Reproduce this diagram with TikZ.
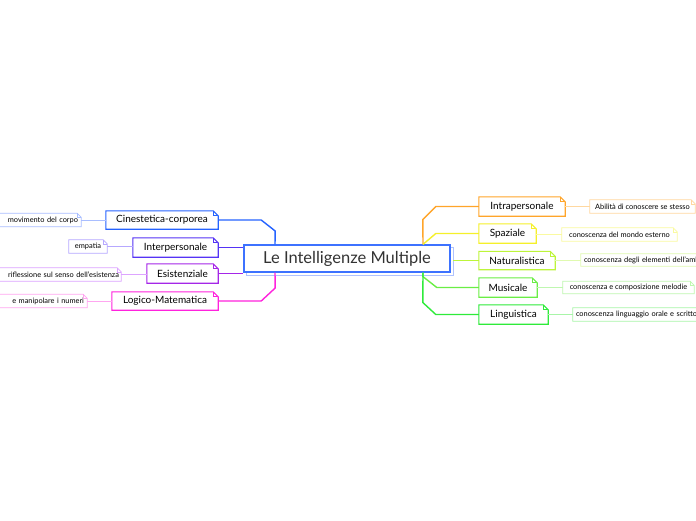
\documentclass[tikz,border=0pt]{standalone}
\usepackage{fontspec}
\setmainfont{Lato}
\definecolor{cBlue}{HTML}{2563FF}
\definecolor{cBlueL}{HTML}{A9BEFF}
\definecolor{cInd}{HTML}{5533F5}
\definecolor{cIndL}{HTML}{B6A8FF}
\definecolor{cVio}{HTML}{A526E8}
\definecolor{cVioL}{HTML}{DDA4FF}
\definecolor{cMag}{HTML}{FF22DD}
\definecolor{cMagL}{HTML}{FFA6F0}
\definecolor{cOra}{HTML}{FFA52A}
\definecolor{cOraL}{HTML}{FFD8A0}
\definecolor{cYel}{HTML}{F5F02A}
\definecolor{cYelL}{HTML}{FAFAA0}
\definecolor{cLime}{HTML}{BDF53A}
\definecolor{cLimeL}{HTML}{E0FAB0}
\definecolor{cGrn}{HTML}{6AEE45}
\definecolor{cGrnL}{HTML}{BFF7B0}
\definecolor{cLgr}{HTML}{2EEB3A}
\definecolor{cLgrL}{HTML}{A8F5A8}
\definecolor{cMain}{HTML}{3D72FF}
\definecolor{cShadow}{HTML}{AFC2FF}
\definecolor{cText}{HTML}{333333}
\newcommand\dogear[3]{%
  \draw[#2, line width=1.1pt, line join=miter] (#1.south west) -- (#1.north west) -- ([xshift=-#3]#1.north east) -- ([yshift=-#3]#1.north east) -- (#1.south east) -- cycle;
  \draw[#2, line width=0.8pt] ([xshift=-#3]#1.north east) -- ([xshift=-#3,yshift=-#3]#1.north east) -- ([yshift=-#3]#1.north east);
}
\newcommand\leafear[3]{%
  \draw[#2, line width=0.8pt, line join=miter] (#1.south west) -- (#1.north west) -- ([xshift=-#3]#1.north east) -- ([yshift=-#3]#1.north east) -- (#1.south east) -- cycle;
  \draw[#2, line width=0.6pt] ([xshift=-#3]#1.north east) -- ([xshift=-#3,yshift=-#3]#1.north east) -- ([yshift=-#3]#1.north east);
}
\begin{document}
\begin{tikzpicture}[x=1pt,y=-1pt,
  branch/.style={inner sep=0pt, minimum height=19pt, font=\fontsize{10}{11}\selectfont, text=black},
  leaf/.style={inner sep=0pt, minimum height=13pt, font=\fontsize{7.4}{8}\selectfont, text=black},
  conn/.style={line width=1.4pt, line join=miter},
  lconn/.style={line width=0.9pt}]
\clip (0,0) rectangle (696,520);
\fill[white] (0,0) rectangle (696,520);

% main node
\node[inner sep=0pt, minimum width=206pt, minimum height=27pt] (mainsh) at (350,261.5) {};
\draw[cShadow, line width=1.2pt, fill=white] (mainsh.south west) rectangle (mainsh.north east);
\node[inner sep=0pt, minimum width=206pt, minimum height=27pt, draw=cMain, line width=1.3pt, fill=white,
  font=\fontsize{16.5}{18}\selectfont, text=cText] (main) at (347,258.5) {Le Intelligenze Multiple};

\coordinate (lt) at (275,0);
\coordinate (rt) at (423,0);

% left branches
\node[branch, minimum width=112pt, minimum height=18pt] (cin) at (162,220) {Cinestetica-corporea};
\dogear{cin}{cBlue}{5pt}
\draw[conn, cBlue] (cin.east) -- ++(43,0) -- ++(14,11) -- (main.north -| lt);

\node[branch, minimum width=85pt] (inter) at (175.5,247.5) {Interpersonale};
\dogear{inter}{cInd}{5pt}
\draw[conn, cInd] (inter.east) -- (inter.east -| main.west);

\node[branch, minimum width=71pt] (esi) at (182.5,273.5) {Esistenziale};
\dogear{esi}{cVio}{5pt}
\draw[conn, cVio] (esi.east) -- (esi.east -| main.west);

\node[branch, minimum width=106pt, minimum height=18pt] (log) at (165,301) {Logico-Matematica};
\dogear{log}{cMag}{5pt}
\draw[conn, cMag] (log.east) -- ++(43,0) -- ++(14,-13) -- (main.south -| lt);

% left leaves
\node[leaf, minimum width=91pt, text width=85pt, align=right] (l1) at (35.5,220) {movimento del corpo};
\leafear{l1}{cBlueL}{4pt}
\draw[lconn, cBlueL] (l1.east) -- (cin.west);

\node[leaf, minimum width=38pt] (l2) at (88,246.5) {empatia};
\leafear{l2}{cIndL}{4pt}
\draw[lconn, cIndL] (l2.east) -- (l2.east -| inter.west);

\node[leaf, minimum width=126pt, text width=122pt, align=right] (l3) at (58,274.5) {riflessione sul senso dell'esistenza};
\leafear{l3}{cVioL}{4pt}
\draw[lconn, cVioL] (l3.east) -- (l3.east -| esi.west);

\node[leaf, minimum width=92pt, text width=86pt, align=right] (l4) at (41,301) {e manipolare i numeri};
\leafear{l4}{cMagL}{4pt}
\draw[lconn, cMagL] (l4.east) -- (log.west);

% right branches
\node[branch, minimum width=86pt] (intra) at (522,206.5) {Intrapersonale};
\dogear{intra}{cOra}{5pt}
\draw[conn, cOra] (intra.west) -- ++(-43,0) -- ++(-13,13) -- (main.north -| rt);

\node[branch, minimum width=57pt] (spa) at (507.5,233.5) {Spaziale};
\dogear{spa}{cYel}{5pt}
\draw[conn, cYel] (spa.west) -- ++(-43,0) -- (main.north -| rt);

\node[branch, minimum width=76pt, minimum height=18pt] (nat) at (517,260.5) {Naturalistica};
\dogear{nat}{cLime}{5pt}
\draw[conn, cLime] (nat.west) -- (nat.west -| mainsh.east);

\node[branch, minimum width=58pt] (mus) at (508,287.5) {Musicale};
\dogear{mus}{cGrn}{5pt}
\draw[conn, cGrn] (mus.west) -- ++(-42,0) -- ++(-14,-11) -- (main.south -| rt);

\node[branch, minimum width=69pt] (lin) at (513.5,314.5) {Linguistica};
\dogear{lin}{cLgr}{5pt}
\draw[conn, cLgr] (lin.west) -- ++(-43,0) -- ++(-13,-12) -- (main.south -| rt);

% right leaves
\node[leaf, minimum width=105pt] (r1) at (642.5,206.5) {Abilità di conoscere se stesso};
\leafear{r1}{cOraL}{4pt}
\draw[lconn, cOraL] (r1.west) -- (intra.east);

\node[leaf, minimum width=115pt] (r2) at (619.5,234.5) {conoscenza del mondo esterno};
\leafear{r2}{cYelL}{4pt}
\draw[lconn, cYelL] (r2.west) -- (r2.west -| spa.east);

\node[leaf, minimum width=150pt, text width=144pt, align=left, minimum height=12pt] (r3) at (656,260) {conoscenza degli elementi dell'ambiente};
\leafear{r3}{cLimeL}{4pt}
\draw[lconn, cLimeL] (r3.west) -- (r3.west -| nat.east);

\node[leaf, minimum width=131pt, minimum height=12pt] (r4) at (628.5,287.5) {conoscenza e composizione melodie};
\leafear{r4}{cGrnL}{4pt}
\draw[lconn, cGrnL] (r4.west) -- (mus.east);

\node[leaf, minimum width=150pt, text width=144pt, align=left] (r5) at (648,314.5) {conoscenza linguaggio orale e scritto};
\leafear{r5}{cLgrL}{4pt}
\draw[lconn, cLgrL] (r5.west) -- (lin.east);
\end{tikzpicture}
\end{document}
